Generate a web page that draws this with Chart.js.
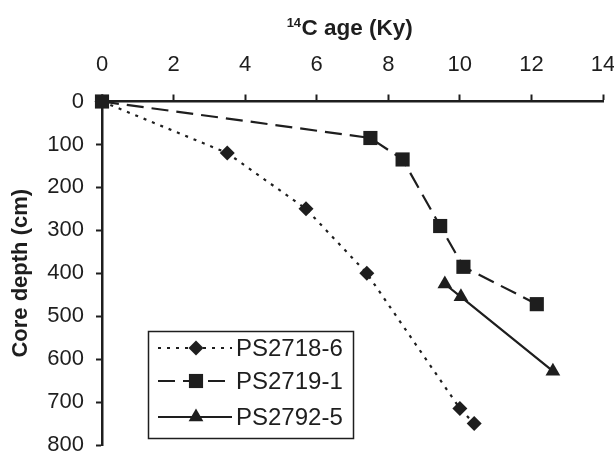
<!DOCTYPE html>
<html><head><meta charset="utf-8">
<script src="https://cdn.jsdelivr.net/npm/chart.js@4.4.1/dist/chart.umd.min.js"></script>
<style>html,body{margin:0;padding:0;background:#fff;}#wrap{width:614px;height:455px;position:relative;}</style>
</head><body><div id="wrap"><canvas id="c" width="614" height="455"></canvas></div>
<script>
const seriesNames = ['PS2718-6', 'PS2719-1', 'PS2792-5'];
const ps2718Age = [0, 3.5, 5.7, 7.4, 10.0, 10.4];
const ps2718Depth = [0, 120, 250, 400, 715, 750];
const ps2719Age = [0, 7.5, 8.4, 9.45, 10.1, 12.15];
const ps2719Depth = [0, 85, 135, 290, 385, 472];
const ps2792Age = [9.58, 10.03, 12.6];
const ps2792Depth = [425, 455, 628];
const xTickValues = [0, 2, 4, 6, 8, 10, 12, 14];
const yTickValues = [0, 100, 200, 300, 400, 500, 600, 700, 800];
const xTitleSup = '14';
const xTitleMain = 'C age (Ky)';
const yTitle = 'Core depth (cm)';

const INK = '#1e1e1e';
const FONT = "'Liberation Sans', Arial, sans-serif";

function pts(xs, ys) { return xs.map((x, i) => ({ x: x, y: ys[i] })); }

const styles = [
  { dash: [3, 6], pointStyle: 'rectRot', radius: 7.5 },
  { dash: [17, 8], pointStyle: 'rect', radius: 10 },
  { dash: [], pointStyle: 'triangle', radius: 8.5 }
];

const datasets = [pts(ps2718Age, ps2718Depth), pts(ps2719Age, ps2719Depth), pts(ps2792Age, ps2792Depth)].map((d, i) => ({
  label: seriesNames[i],
  data: d,
  showLine: true,
  borderColor: INK,
  borderWidth: 2.2,
  borderDash: styles[i].dash,
  pointStyle: styles[i].pointStyle,
  pointRadius: styles[i].radius,
  pointHoverRadius: styles[i].radius,
  pointBackgroundColor: INK,
  pointBorderColor: INK,
  pointBorderWidth: 0,
  clip: false,
  order: i === 1 ? 0 : i + 1
}));

const customDecor = {
  id: 'customDecor',
  afterDraw(chart) {
    const ctx = chart.ctx;
    ctx.save();
    ctx.fillStyle = INK;
    ctx.textBaseline = 'alphabetic';
    const supFont = 'bold 13px ' + FONT;
    const mainFont = 'bold 22.5px ' + FONT;
    ctx.font = supFont; const w1 = ctx.measureText(xTitleSup).width;
    ctx.font = mainFont; const w2 = ctx.measureText(xTitleMain).width;
    const cx = 349.5;
    const startX = cx - (w1 + w2) / 2;
    const base = 35;
    ctx.font = supFont; ctx.textAlign = 'left';
    ctx.fillText(xTitleSup, startX, base - 8);
    ctx.font = mainFont;
    ctx.fillText(xTitleMain, startX + w1 + 0.5, base);
    ctx.restore();

    const box = { x: 148.5, y: 331.5, w: 205, h: 107 };
    ctx.save();
    ctx.fillStyle = '#fff';
    ctx.fillRect(box.x, box.y, box.w, box.h);
    ctx.strokeStyle = INK; ctx.lineWidth = 1.5;
    ctx.strokeRect(box.x, box.y, box.w, box.h);
    const rows = [348, 381, 417];
    chart.data.datasets.forEach((ds, i) => {
      const y = rows[i];
      ctx.save();
      ctx.strokeStyle = INK; ctx.lineWidth = 2.2;
      ctx.setLineDash(ds.borderDash);
      ctx.beginPath(); ctx.moveTo(158, y); ctx.lineTo(232, y); ctx.stroke();
      ctx.restore();
      ctx.save();
      ctx.fillStyle = INK; ctx.strokeStyle = INK; ctx.lineWidth = 0;
      Chart.helpers.drawPoint(ctx, { pointStyle: ds.pointStyle, radius: ds.pointRadius, rotation: 0, borderWidth: 0 }, 196, y);
      ctx.restore();
      ctx.fillStyle = INK;
      ctx.font = '24px ' + FONT;
      ctx.textAlign = 'left'; ctx.textBaseline = 'middle';
      ctx.fillText(ds.label, 236, y + 1);
    });
    ctx.restore();
  }
};

new Chart(document.getElementById('c'), {
  type: 'scatter',
  data: { datasets: datasets },
  plugins: [customDecor],
  options: {
    responsive: false,
    animation: false,
    events: [],
    layout: { padding: { left: 0, top: 0, right: 11, bottom: 8 } },
    plugins: { legend: { display: false }, tooltip: { enabled: false } },
    scales: {
      x: {
        type: 'linear', position: 'top', min: 0, max: 14,
        afterBuildTicks: (s) => { s.ticks = xTickValues.map(v => ({ value: v })); },
        afterFit: (s) => { s.height = 101.5; s.paddingLeft = 0; s.paddingRight = 0; },
        ticks: { color: INK, font: { size: 22, family: FONT }, padding: 16, maxRotation: 0 },
        grid: { drawOnChartArea: false, drawTicks: true, tickLength: 7, tickWidth: 2, tickColor: INK },
        border: { color: INK, width: 2.5 },
        title: { display: false }
      },
      y: {
        type: 'linear', reverse: true, min: 0, max: 800,
        afterBuildTicks: (s) => { s.ticks = yTickValues.map(v => ({ value: v })); },
        afterFit: (s) => { s.width = 102; s.paddingTop = 0; s.paddingBottom = 0; },
        ticks: { color: INK, font: { size: 22, family: FONT }, padding: 12 },
        grid: { drawOnChartArea: false, drawTicks: true, tickLength: 6, tickWidth: 2, tickColor: INK },
        border: { color: INK, width: 2.5 },
        title: { display: true, text: yTitle, color: INK, font: { size: 22, weight: 'bold', family: FONT }, padding: { top: 8, bottom: 0 } }
      }
    }
  }
});
</script></body></html>
